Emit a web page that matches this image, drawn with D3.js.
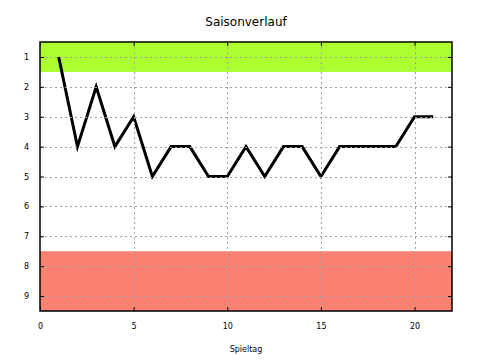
<!DOCTYPE html>
<html><head><meta charset="utf-8">
<script src="https://cdn.jsdelivr.net/npm/d3@7"></script>
<style>body{margin:0;background:#fff}svg{display:block}text{font-family:"DejaVu Sans",sans-serif;fill:#000}</style>
</head><body>
<svg id="c" width="480" height="360"></svg>
<script>
const spieltag = [1,2,3,4,5,6,7,8,9,10,11,12,13,14,15,16,17,18,19,20,21];
const platz    = [1,4,2,4,3,5,4,4,5,5,4,5,4,4,5,4,4,4,4,3,3];
const xTicks = [0,5,10,15,20];
const yTicks = [1,2,3,4,5,6,7,8,9];
const bands = [{from:0.5,to:1.5,color:"#adff2f"},{from:7.5,to:9.5,color:"#fa8072"}];
const title = "Saisonverlauf", xLabel = "Spieltag";

const svg = d3.select("#c");
const L=40,R=452,T=42,B=311;
const x = d3.scaleLinear().domain([0,22]).range([L,R]);
const y = d3.scaleLinear().domain([0.5,9.5]).range([T,B]);

svg.selectAll("rect.band").data(bands).enter().append("rect")
  .attr("x",L).attr("width",R-L)
  .attr("y",d=>y(d.from)).attr("height",d=>y(d.to)-y(d.from))
  .attr("fill",d=>d.color);

svg.append("path").datum(spieltag.map((s,i)=>[s,platz[i]]))
  .attr("d",d3.line().x(d=>x(d[0])).y(d=>y(d[1])))
  .attr("fill","none").attr("stroke","#000").attr("stroke-width",3).attr("stroke-linejoin","miter");

// grid on top
const g = svg.append("g").attr("stroke","#a0a0a0").attr("stroke-width",1).attr("stroke-dasharray","2,3");
g.selectAll("line.gx").data(xTicks.filter(v=>v>0)).enter().append("line")
  .attr("x1",d=>Math.round(x(d))+0.5).attr("x2",d=>Math.round(x(d))+0.5).attr("y1",T).attr("y2",B);
g.selectAll("line.gy").data(yTicks).enter().append("line")
  .attr("y1",d=>Math.round(y(d))+0.5).attr("y2",d=>Math.round(y(d))+0.5).attr("x1",L).attr("x2",R);

// axes (ticks inward, mirrored)
const ax = svg.append("g").attr("transform",`translate(0,${B})`)
  .call(d3.axisBottom(x).tickValues(xTicks).tickSize(-4).tickPadding(12));
const ax2 = svg.append("g").attr("transform",`translate(0,${T})`)
  .call(d3.axisTop(x).tickValues(xTicks).tickSize(-4).tickFormat(""));
const ay = svg.append("g").attr("transform",`translate(${L},0)`)
  .call(d3.axisLeft(y).tickValues(yTicks).tickSize(-4).tickPadding(11));
const ay2 = svg.append("g").attr("transform",`translate(${R},0)`)
  .call(d3.axisRight(y).tickValues(yTicks).tickSize(-4).tickFormat(""));
[ax,ax2,ay,ay2].forEach(a=>{
  a.select(".domain").remove();
  a.selectAll("line").attr("stroke","#000");
  a.selectAll("text").attr("font-size",8).attr("font-family","DejaVu Sans").attr("fill","#000");
});
svg.append("rect").attr("x",L).attr("y",T).attr("width",R-L).attr("height",B-T)
  .attr("fill","none").attr("stroke","#000").attr("stroke-width",1.5);

svg.append("text").attr("x",246).attr("y",26).attr("text-anchor","middle").attr("font-size",12).text(title);
svg.append("text").attr("x",246).attr("y",352).attr("text-anchor","middle").attr("font-size",8).text(xLabel);
</script>
</body></html>
